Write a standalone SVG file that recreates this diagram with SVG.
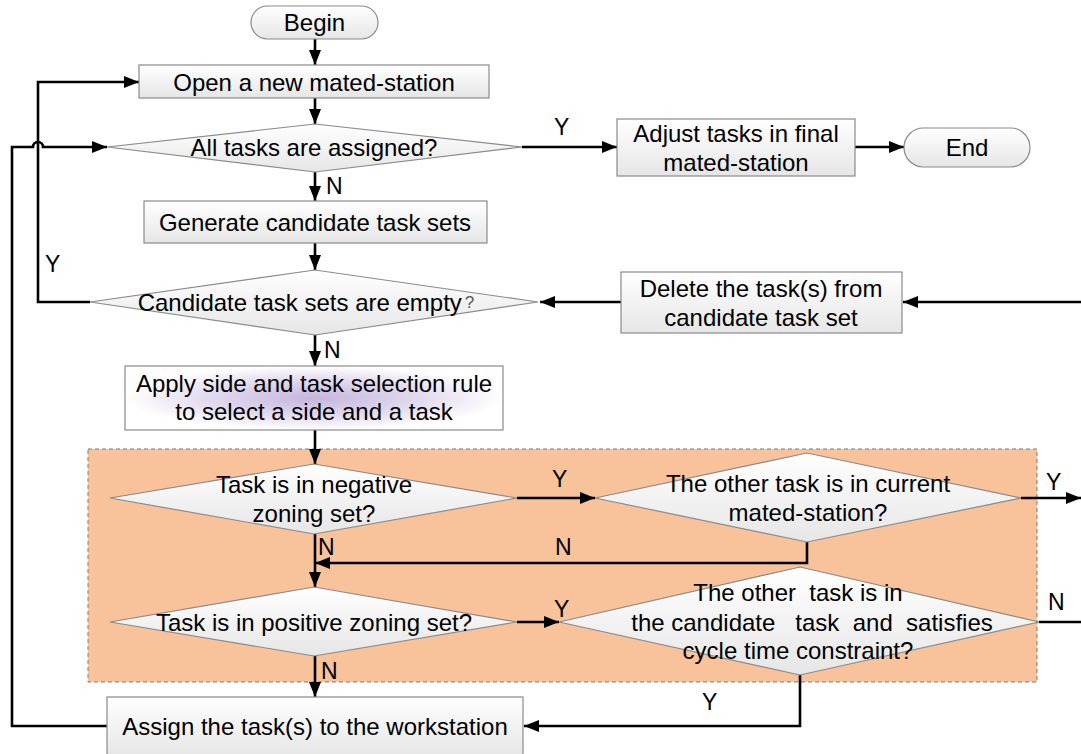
<svg xmlns="http://www.w3.org/2000/svg" width="1081" height="754" viewBox="0 0 1081 754">
<defs>
<linearGradient id="gBox" x1="0" y1="0" x2="0" y2="1">
<stop offset="0" stop-color="#ffffff"/>
<stop offset="1" stop-color="#e6e6e6"/>
</linearGradient>
<radialGradient id="gPurple" cx="0.5" cy="0.5" r="0.5">
<stop offset="0" stop-color="#c4b6dc"/>
<stop offset="0.6" stop-color="#e4ddef"/>
<stop offset="1" stop-color="#ffffff"/>
</radialGradient>
<marker id="arr" markerUnits="userSpaceOnUse" markerWidth="16" markerHeight="12" refX="15" refY="6" orient="auto">
<path d="M0,0 L15,6 L0,12 z" fill="#000"/>
</marker>
</defs>
<style>
.box{fill:url(#gBox);stroke:#8a8a8a;stroke-width:1.2}
.dia{fill:url(#gBox);stroke:#8a8a8a;stroke-width:1.2}
.t{font-family:"Liberation Sans",Arial,sans-serif;font-size:24px;fill:#000;text-anchor:middle;dominant-baseline:central}
.lbl{font-family:"Liberation Sans",Arial,sans-serif;font-size:23px;fill:#000;dominant-baseline:central}
.c{fill:none;stroke:#000;stroke-width:2.6}
.ca{fill:none;stroke:#000;stroke-width:2.6;marker-end:url(#arr)}
</style>
<rect x="0" y="0" width="1081" height="754" fill="#ffffff"/>

<g id="zone">
<rect x="88" y="449" width="949" height="233" fill="#f8c39a" stroke="#7a7a7a" stroke-width="1" stroke-dasharray="4,3"/>
</g>

<g id="connectors">
<line class="ca" x1="315" y1="39" x2="315" y2="65"/>
<line class="ca" x1="315" y1="98" x2="315" y2="124"/>
<line class="ca" x1="522" y1="147" x2="617" y2="147"/>
<line class="ca" x1="855" y1="147" x2="904" y2="147"/>
<line class="ca" x1="315" y1="172" x2="315" y2="201"/>
<line class="ca" x1="315" y1="243" x2="315" y2="270"/>
<line class="ca" x1="621" y1="302" x2="540" y2="302"/>
<line class="ca" x1="1081" y1="302" x2="903" y2="302"/>
<polyline class="ca" points="90,302 38,302 38,82 139,82"/>
<path class="ca" d="M107,726 L12,726 L12,147 L33,147 A5,5 0 0 1 43,147 L107,147"/>
<line class="ca" x1="315" y1="335" x2="315" y2="366"/>
<line class="ca" x1="315" y1="430" x2="315" y2="464"/>
<line class="ca" x1="517" y1="498" x2="595" y2="498"/>
<line class="ca" x1="1021" y1="498" x2="1081" y2="498"/>
<polyline class="ca" points="807,542 807,563 315,563"/>
<line class="ca" x1="315" y1="534" x2="315" y2="587"/>
<line class="ca" x1="517" y1="622" x2="559" y2="622"/>
<line class="c" x1="1039" y1="622" x2="1081" y2="622"/>
<line class="ca" x1="315" y1="656" x2="315" y2="697"/>
<polyline class="ca" points="800,675 800,726 524,726"/>
</g>

<g id="labels">
<text class="lbl" x="554" y="127">Y</text>
<text class="lbl" x="326" y="186">N</text>
<text class="lbl" x="45" y="264">Y</text>
<text class="lbl" x="324" y="350">N</text>
<text class="lbl" x="552" y="479">Y</text>
<text class="lbl" x="1046" y="482">Y</text>
<text class="lbl" x="318" y="547">N</text>
<text class="lbl" x="555" y="547">N</text>
<text class="lbl" x="554" y="609">Y</text>
<text class="lbl" x="1048" y="602">N</text>
<text class="lbl" x="321" y="671">N</text>
<text class="lbl" x="702" y="702">Y</text>
</g>

<g id="begin">
<rect x="251" y="6" width="127" height="33" rx="16.5" ry="16.5" class="box"/>
<text class="t" x="314.5" y="22">Begin</text>
</g>
<g id="open">
<rect x="139" y="65" width="350" height="33" class="box"/>
<text class="t" x="314" y="82">Open a new mated-station</text>
</g>
<g id="alltasks">
<polygon class="dia" points="107,147 315,124 522,147 315,172"/>
<text class="t" x="314" y="147">All tasks are assigned?</text>
</g>
<g id="adjust">
<rect x="617" y="119" width="238" height="57" class="box"/>
<text class="t" x="736" y="133">Adjust tasks in final</text>
<text class="t" x="736" y="162">mated-station</text>
</g>
<g id="end">
<rect x="904" y="128" width="126" height="39" rx="19.5" ry="19.5" class="box"/>
<text class="t" x="967" y="147">End</text>
</g>
<g id="generate">
<rect x="144" y="201" width="343" height="42" class="box"/>
<text class="t" x="315" y="222">Generate candidate task sets</text>
</g>
<g id="candidate">
<polygon class="dia" points="90,302 315,270 538,302 315,335"/>
<text class="t" x="306" y="302">Candidate task sets are empty<tspan style="font-size:17px;fill:#555" dx="3">?</tspan></text>
</g>
<g id="delete">
<rect x="621" y="272" width="281" height="61" class="box"/>
<text class="t" x="761" y="288">Delete the task(s) from</text>
<text class="t" x="761" y="317">candidate task set</text>
</g>
<g id="apply">
<rect x="125" y="366" width="378" height="64" fill="url(#gPurple)" stroke="#8a8a8a" stroke-width="1.2"/>
<text class="t" x="314" y="383">Apply side and task selection rule</text>
<text class="t" x="314" y="411">to select a side and a task</text>
</g>
<g id="negative">
<polygon class="dia" points="110,498 314,464 517,498 314,534"/>
<text class="t" x="314" y="484">Task is in negative</text>
<text class="t" x="314" y="513">zoning set?</text>
</g>
<g id="current">
<polygon class="dia" points="595,498 807,453 1021,498 807,542"/>
<text class="t" x="808" y="483">The other task is in current</text>
<text class="t" x="808" y="512">mated-station?</text>
</g>
<g id="positive">
<polygon class="dia" points="110,622 314,587 517,622 314,656"/>
<text class="t" x="314" y="622">Task is in positive zoning set?</text>
</g>
<g id="satisfies">
<polygon class="dia" points="559,622 800,567 1039,622 800,675"/>
<text class="t" x="798" y="592" style="white-space:pre">The other  task is in</text>
<text class="t" x="812" y="622" style="white-space:pre">the candidate   task  and  satisfies</text>
<text class="t" x="798" y="650">cycle time constraint?</text>
</g>
<g id="assign">
<rect x="107" y="697" width="416" height="60" class="box"/>
<text class="t" x="315" y="726">Assign the task(s) to the workstation</text>
</g>
</svg>
